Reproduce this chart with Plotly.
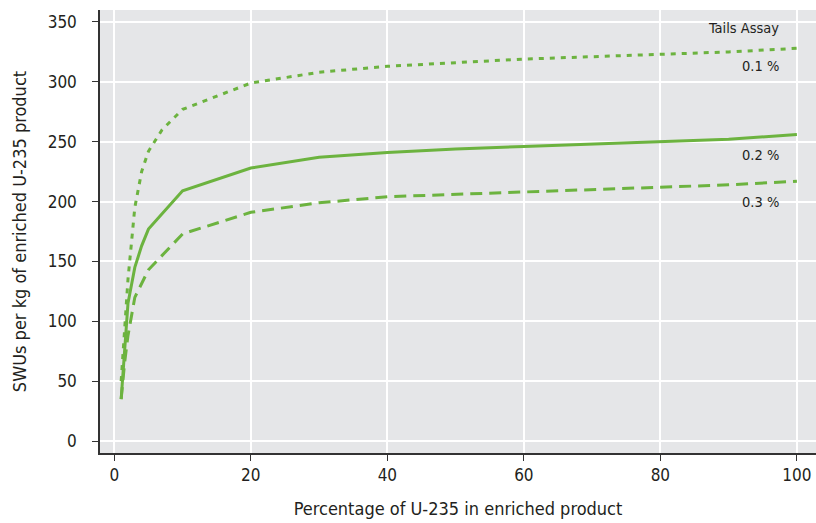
import plotly.graph_objects as go

x_01 = [1, 1.5, 2, 3, 4, 5, 7, 10, 20, 30, 40, 50, 60, 70, 80, 90, 100]
swu_01 = [50, 95, 135, 195, 225, 242, 260, 277, 299, 308, 313, 316, 319, 321, 323, 325, 328]

x_02 = [1, 2, 3, 4, 5, 10, 20, 30, 40, 50, 60, 70, 80, 90, 100]
swu_02 = [35, 115, 145, 163, 177, 209, 228, 237, 241, 244, 246, 248, 250, 252, 256]

x_03 = [1, 1.5, 2, 3, 5, 10, 20, 30, 40, 50, 60, 70, 80, 90, 100]
swu_03 = [35, 65, 88, 120, 143, 173, 191, 199, 204, 206, 208, 210, 212, 214, 217]

labels = ["0.1 %", "0.2 %", "0.3 %"]
x_ticks = [0, 20, 40, 60, 80, 100]
y_ticks = [0, 50, 100, 150, 200, 250, 300, 350]

GREEN = "#6cb33f"
FONT = "DejaVu Sans Condensed, Liberation Sans Narrow, sans-serif"
TXT = "#231f20"

fig = go.Figure()
fig.add_trace(go.Scatter(x=x_01, y=swu_01, mode="lines", name=labels[0],
                         line=dict(color=GREEN, width=3, dash="5px,6px")))
fig.add_trace(go.Scatter(x=x_02, y=swu_02, mode="lines", name=labels[1],
                         line=dict(color=GREEN, width=3)))
fig.add_trace(go.Scatter(x=x_03, y=swu_03, mode="lines", name=labels[2],
                         line=dict(color=GREEN, width=3, dash="12px,7px")))

ann = [
    dict(x=97.7, y=345, text="Tails Assay"),
    dict(x=97.7, y=313, text=labels[0]),
    dict(x=97.7, y=239, text=labels[1]),
    dict(x=97.7, y=200, text=labels[2]),
]
for a in ann:
    fig.add_annotation(**a, xanchor="right", yanchor="middle",
                       showarrow=False, xref="x", yref="y",
                       font=dict(family=FONT, size=14.5, color=TXT))

fig.update_layout(
    width=816, height=523,
    margin=dict(l=100, r=0, t=10, b=70, autoexpand=False),
    paper_bgcolor="white", plot_bgcolor="#e5e6e8",
    showlegend=False,
    font=dict(family=FONT, size=17, color=TXT),
)
fig.update_xaxes(range=[-2.1, 102.8], tickvals=x_ticks, showgrid=True,
                 gridcolor="white", gridwidth=2, zeroline=False,
                 showline=True, linecolor="#333", linewidth=1.5,
                 ticks="outside", ticklen=6, tickcolor="#333",
                 tickfont=dict(size=17), automargin=False,
                 title=dict(text="Percentage of U-235 in enriched product",
                            font=dict(size=18), standoff=18))
fig.update_yaxes(range=[-10, 360], tickvals=y_ticks, showgrid=True,
                 gridcolor="white", gridwidth=2, zeroline=False,
                 showline=True, linecolor="#333", linewidth=1.5,
                 ticks="outside", ticklen=6, tickcolor="#333",
                 ticklabelstandoff=12,
                 tickfont=dict(size=17), automargin=False,
                 title=dict(text="SWUs per kg of enriched U-235 product",
                            font=dict(size=18), standoff=16))

fig.write_html(
    "out.html",
    config={"displayModeBar": False},
    post_script="document.body.style.margin='0';"
                "document.documentElement.style.overflow='hidden';",
)
